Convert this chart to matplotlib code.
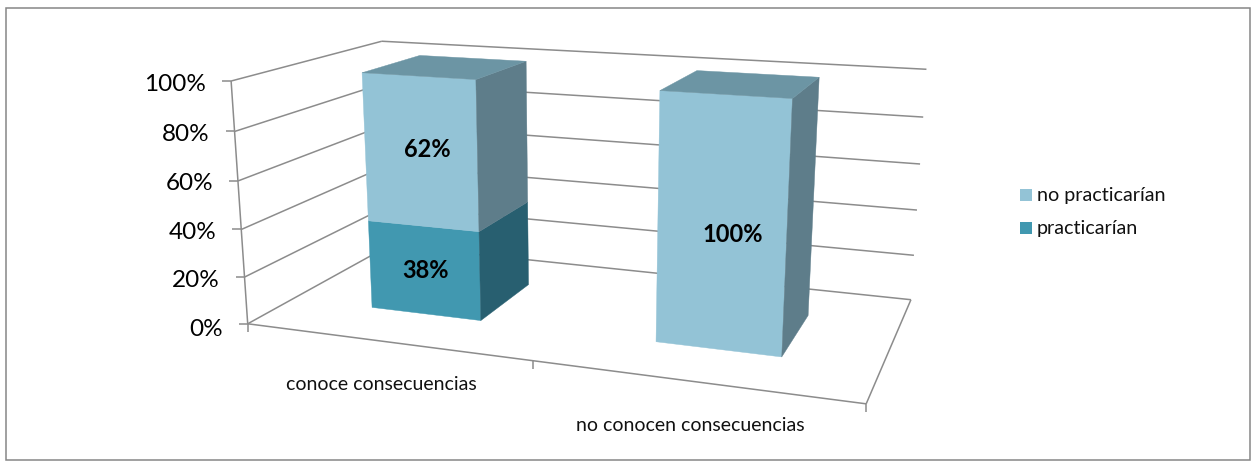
#!/usr/bin/env python3
# -*- coding: utf-8 -*-

import numpy as np
import matplotlib
matplotlib.use('Agg')
import matplotlib.pyplot as plt
from matplotlib.patches import Polygon, Rectangle

plt.rcParams['font.family'] = ['Lato', 'DejaVu Sans']

# Chart data
categories = ['conoce consecuencias', 'no conocen consecuencias']
practicarian = [38, 0]
no_practicarian = [62, 100]
y_ticks = [0, 20, 40, 60, 80, 100]
legend_labels = ['no practicarían', 'practicarían']

# Look of the bars
light_front, light_top, light_side = '#93c3d6', '#6c95a4', '#5e7d8a'
dark_front, dark_top, dark_side = '#4198b0', '#3a7f92', '#285f70'
line_col = '#8c8c8c'
half_width = 0.2
depth = (0.29, 0.71)

# Nudge of each data label from the middle of its bar face, in pixels
label_nudge = {(0, 38): (1, 0), (0, 62): (7, -3), (1, 100): (11, 9)}

# Camera: where known points (category, percent, depth) land on the page
box = [(0, 0, 0), (0, 100, 0), (0, 0, 1), (0, 100, 1),
       (2, 0, 0), (2, 0, 1), (2, 100, 1), (1, 0, 0),
       (0.3, 100, 0.29), (0.7, 100, 0.29), (0.3, 0, 0.29), (0.7, 0, 0.29),
       (1.3, 100, 0.29), (1.7, 100, 0.29), (1.3, 0, 0.29), (1.7, 0, 0.29)]
page = [(247, 323), (231, 82), (391, 246), (380, 41),
        (866, 405), (911, 300), (926, 69), (532, 361),
        (363, 73), (477, 79), (372, 307), (481, 320),
        (661, 91), (792, 98), (656, 342), (782, 356)]


def fit_camera(box, page):
    # Direct linear transform from 3D box to page pixels
    rows = []
    for (a, b, c), (u, v) in zip(box, page):
        b = b/100
        rows.append([a, b, c, 1, 0, 0, 0, 0, -u*a, -u*b, -u*c, -u])
        rows.append([0, 0, 0, 0, a, b, c, 1, -v*a, -v*b, -v*c, -v])
    return np.linalg.svd(np.array(rows, dtype=float))[2][-1].reshape(3, 4)


cam = fit_camera(box, page)


def P(x, y, z):
    q = cam @ np.array([x, y/100, z, 1.0])
    return q[0]/q[2], q[1]/q[2]


def line(ax, a, b, lw=1.1):
    ax.plot([a[0], b[0]], [a[1], b[1]], color=line_col, lw=lw, solid_capstyle='butt', zorder=1)


fig = plt.figure(figsize=(12.57, 4.61), dpi=100)
ax = fig.add_axes([0, 0, 1, 1])
ax.set_xlim(0, 1257)
ax.set_ylim(461, 0)
ax.axis('off')

# Outer frame
ax.add_patch(Rectangle((6, 8), 1244, 452, fill=False, ec='#868686', lw=1.1))

# Walls and floor
for t in y_ticks:
    line(ax, P(0, t, 0), P(0, t, 1))
    line(ax, P(0, t, 1), P(2, t, 1))
    start = P(0, t, 0)
    line(ax, (start[0]-9, start[1]), start)
    ax.text(start[0]-25, start[1]+(3 if t else 6), '%d%%' % t, ha='right', va='center', fontsize=17.5, color='black')
line(ax, P(0, 0, 0), P(0, 100, 0))
line(ax, P(0, 0, 0), P(2, 0, 0))
line(ax, P(2, 0, 0), P(2, 0, 1))
for i in range(3):
    tick = P(i, 0, 0)
    line(ax, tick, (tick[0], tick[1]+8))


def face(pts, col):
    ax.add_patch(Polygon(pts, closed=True, fc=col, ec=col, lw=0.3, zorder=3))


# Stacked bars
for i in range(len(categories)):
    x0, x1 = i+0.5-half_width, i+0.5+half_width
    z0, z1 = depth
    base = 0
    for val, front, top, side in [(practicarian[i], dark_front, dark_top, dark_side),
                                  (no_practicarian[i], light_front, light_top, light_side)]:
        if val == 0:
            continue
        up = base+val
        face([P(x0, base, z0), P(x1, base, z0), P(x1, up, z0), P(x0, up, z0)], front)
        face([P(x1, base, z0), P(x1, base, z1), P(x1, up, z1), P(x1, up, z0)], side)
        if up == 100:
            face([P(x0, up, z0), P(x1, up, z0), P(x1, up, z1), P(x0, up, z1)], top)
        lx, ly = P(i+0.5, base+val/2, z0)
        dx, dy = label_nudge[(i, val)]
        ax.text(lx+dx, ly+dy, '%d%%' % val, ha='center', va='center', fontsize=17, fontweight='bold', color='black', zorder=5)
        base = up

# Category labels
ax.text(381, 384, categories[0], ha='center', va='center', fontsize=14, color='#111111')
ax.text(690, 425, categories[1], ha='center', va='center', fontsize=14, color='#111111')

# Legend
for y, lab, col in zip([195, 228], legend_labels, [light_front, dark_front]):
    ax.add_patch(Rectangle((1020, y-6), 12, 12, fc=col, ec='none'))
    ax.text(1037, y, lab, ha='left', va='center', fontsize=14.2, color='#111111')

fig.savefig('out.png', dpi=100)
